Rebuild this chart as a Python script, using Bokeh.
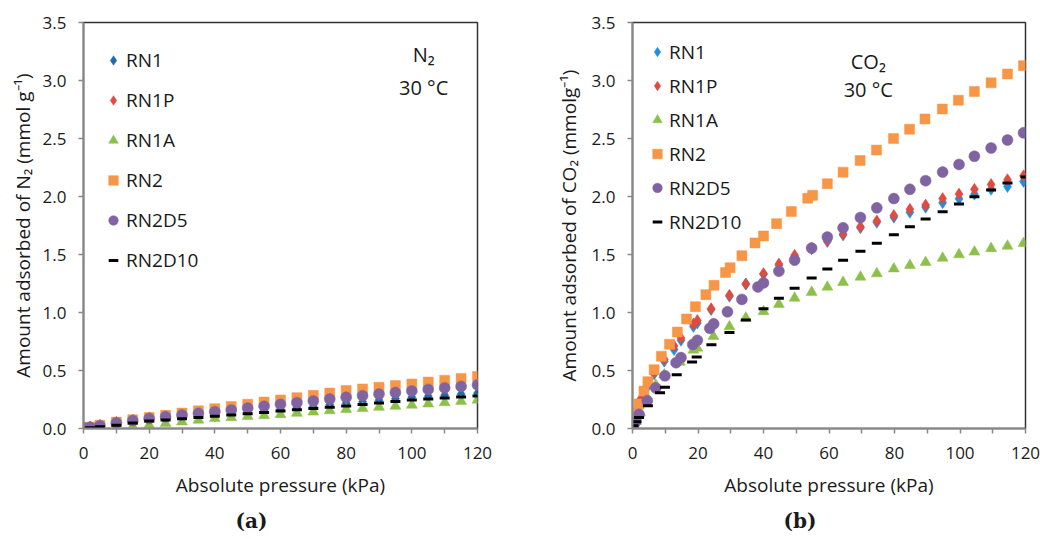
from bokeh.plotting import figure
from bokeh.models import (FixedTicker, NumeralTickFormatter, Legend, LegendItem,
                          Label, Title, Range1d)
from bokeh.layouts import row
from bokeh.embed import file_html
from bokeh.resources import INLINE

# ---------------- data ----------------
series_names = ["RN1", "RN1P", "RN1A", "RN2", "RN2D5", "RN2D10"]

# N2 at 30 °C
n2_pressure = [0.3, 2, 5, 10, 15, 20, 25, 30, 35, 40, 45, 50, 55, 60, 65, 70, 75,
               80, 85, 90, 95, 100, 105, 110, 115, 120]
n2_rn1 = [0.001, 0.006, 0.016, 0.031, 0.05, 0.066, 0.077, 0.088, 0.099, 0.11, 0.124,
          0.138, 0.151, 0.165, 0.178, 0.191, 0.204, 0.217, 0.23, 0.243, 0.256, 0.269,
          0.278, 0.287, 0.295, 0.303]
n2_rn1p = [0.003, 0.014, 0.029, 0.054, 0.073, 0.092, 0.107, 0.122, 0.136, 0.15, 0.165,
           0.181, 0.197, 0.213, 0.228, 0.243, 0.259, 0.274, 0.288, 0.302, 0.315, 0.329,
           0.342, 0.355, 0.368, 0.381]
n2_rn1a = [0.0, 0.0, 0.003, 0.008, 0.018, 0.029, 0.044, 0.058, 0.073, 0.087, 0.095,
           0.104, 0.112, 0.121, 0.132, 0.143, 0.154, 0.165, 0.174, 0.184, 0.193, 0.202,
           0.213, 0.224, 0.235, 0.246]
n2_rn2 = [0.002, 0.012, 0.028, 0.055, 0.075, 0.095, 0.114, 0.133, 0.152, 0.171, 0.19,
          0.209, 0.228, 0.246, 0.266, 0.286, 0.306, 0.327, 0.341, 0.355, 0.37, 0.384,
          0.4, 0.416, 0.432, 0.448]
n2_rn2d5 = [0.002, 0.01, 0.024, 0.049, 0.068, 0.087, 0.102, 0.117, 0.131, 0.145, 0.16,
            0.176, 0.192, 0.208, 0.223, 0.238, 0.254, 0.269, 0.283, 0.297, 0.31, 0.324,
            0.337, 0.35, 0.363, 0.376]
n2_rn2d10 = [0.001, 0.006, 0.015, 0.029, 0.047, 0.064, 0.074, 0.085, 0.095, 0.105, 0.117,
             0.128, 0.139, 0.15, 0.161, 0.172, 0.183, 0.194, 0.207, 0.22, 0.233, 0.246,
             0.255, 0.264, 0.272, 0.28]

# CO2 at 30 °C
co2_rn1_p = [0.3, 1.2, 2.5, 4.6, 6.6, 9.7, 12.7, 14.8, 18.6, 19.8, 24, 29.6, 34.6, 40,
             44.7, 49.5, 54.7, 59.5, 64.3, 69.6, 74.6, 79.8, 84.7, 89.5, 94.7, 99.7,
             104.4, 109.5, 114.5, 119.4]
co2_rn1 = [0.04, 0.125, 0.24, 0.36, 0.47, 0.58, 0.68, 0.76, 0.88, 0.91, 1.025, 1.14,
           1.245, 1.33, 1.41, 1.48, 1.55, 1.611, 1.668, 1.73, 1.777, 1.822, 1.864,
           1.908, 1.947, 1.98, 2.02, 2.062, 2.086, 2.13]
co2_rn1p_p = [0.3, 1.2, 2.5, 4.6, 6.6, 9.7, 12.7, 14.8, 18.6, 19.8, 24, 29.6, 34.6, 40,
              44.7, 49.5, 54.7, 59.5, 64.3, 69.6, 74.6, 79.8, 84.7, 89.5, 94.7, 99.7,
              104.4, 109.5, 114.5, 119.4]
co2_rn1p = [0.05, 0.137, 0.255, 0.374, 0.484, 0.596, 0.712, 0.78, 0.9, 0.932, 1.033,
            1.148, 1.246, 1.335, 1.418, 1.493, 1.555, 1.62, 1.677, 1.739, 1.789, 1.837,
            1.89, 1.926, 1.982, 2.021, 2.062, 2.104, 2.145, 2.178]
co2_rn1a_p = [0.3, 1, 2.3, 4.6, 7.1, 9.7, 14.5, 18.6, 19.8, 24.7, 29.6, 34.6, 40, 44.7,
              49.5, 54.7, 59.5, 64.3, 69.6, 74.6, 79.8, 84.7, 89.5, 94.7, 99.7, 104.4,
              109.5, 114.5, 119.4]
co2_rn1a = [0.012, 0.062, 0.137, 0.255, 0.374, 0.463, 0.573, 0.677, 0.694, 0.795, 0.878,
            0.953, 1.009, 1.071, 1.125, 1.175, 1.22, 1.261, 1.306, 1.335, 1.377, 1.407,
            1.433, 1.469, 1.499, 1.522, 1.552, 1.573, 1.596]
co2_rn2_p = [0.3, 1, 2, 3.5, 4.7, 6.6, 8.8, 11.3, 13.7, 16.5, 19.2, 22.4, 24.9, 28.4,
             29.8, 33.4, 37.4, 40, 44, 48.5, 53.5, 55, 59.5, 64.3, 69.5, 74.5, 79.7,
             84.6, 89.3, 94.6, 99.5, 104.4, 109.5, 114.5, 119.4]
co2_rn2 = [0.062, 0.137, 0.211, 0.323, 0.404, 0.507, 0.623, 0.727, 0.831, 0.944, 1.05,
           1.154, 1.234, 1.344, 1.386, 1.49, 1.6, 1.66, 1.766, 1.87, 1.985, 2.01, 2.11,
           2.21, 2.31, 2.4, 2.5, 2.58, 2.668, 2.754, 2.83, 2.905, 2.98, 3.056, 3.128]
co2_rn2d5_p = [0.3, 1, 2, 4.5, 7.1, 9.9, 13.3, 14.8, 18.4, 19.8, 23.6, 24.8, 29, 33.4,
               38.3, 40, 44.7, 49.5, 54.7, 59.5, 64.3, 69.6, 74.6, 79.8, 84.7, 89.5,
               94.7, 99.7, 104.4, 109.5, 114.5, 119.4]
co2_rn2d5 = [0.02, 0.06, 0.122, 0.24, 0.35, 0.454, 0.567, 0.611, 0.724, 0.76, 0.864,
             0.902, 1.006, 1.113, 1.22, 1.255, 1.356, 1.451, 1.555, 1.65, 1.73, 1.819,
             1.902, 1.982, 2.062, 2.136, 2.211, 2.276, 2.347, 2.418, 2.487, 2.549]
co2_rn2d10_p = [0.3, 1.2, 2.0, 4.7, 8.4, 9.9, 13.5, 18.2, 19.6, 24.1, 29.6, 34.6, 40,
                44.7, 49.5, 54.7, 59.5, 64.3, 69.6, 74.6, 79.8, 84.7, 89.5, 94.7, 99.7,
                104.4, 109.5, 114.5, 120]
co2_rn2d10 = [0.024, 0.059, 0.095, 0.196, 0.309, 0.356, 0.463, 0.573, 0.617, 0.721,
              0.828, 0.935, 1.033, 1.122, 1.208, 1.297, 1.374, 1.451, 1.528, 1.596,
              1.671, 1.739, 1.807, 1.869, 1.935, 1.997, 2.056, 2.116, 2.169]

x_major_ticks = [0, 20, 40, 60, 80, 100, 120]
x_minor_ticks = [10, 30, 50, 70, 90, 110]
y_ticks = [0.0, 0.5, 1.0, 1.5, 2.0, 2.5, 3.0, 3.5]

# ---------------- styling ----------------
FONT = "Open Sans"
TXT = "#1a1a1a"
AX = "#888888"

styles = {
    "RN1":    dict(marker="diamond", size=12),
    "RN1P":   dict(marker="diamond", size=12),
    "RN1A":   dict(marker="triangle", size=11),
    "RN2":    dict(marker="square", size=10),
    "RN2D5":  dict(marker="circle", size=11),
    "RN2D10": dict(marker="dash", size=10),
}


def make_panel(width, left, right, series, colors, ylabel, ylabel_standoff, gas, temp,
               gas_xy, temp_xy, caption, cap_offset, leg_pad, leg_h, leg_spacing,
               leg_standoff):
    p = figure(width=width, height=539, output_backend="svg", toolbar_location=None,
               x_range=Range1d(0, 120), y_range=Range1d(0, 3.5),
               min_border_left=left, min_border_right=right,
               min_border_top=22, min_border_bottom=110)
    p.background_fill_color = "white"
    p.border_fill_color = "white"
    p.grid.visible = False
    p.outline_line_color = "#333333"
    p.outline_line_width = 1.5

    items = []
    for name, (xs, ys) in zip(series_names, series):
        st = styles[name]
        col = colors[name]
        if st["marker"] == "dash":
            r = p.scatter(xs, ys, marker="dash", size=st["size"], line_color=col,
                          line_width=3)
        else:
            r = p.scatter(xs, ys, marker=st["marker"], size=st["size"],
                          fill_color=col, line_color=col, line_width=0.5)
        items.append(LegendItem(label=name, renderers=[r]))

    leg = Legend(items=items, location="top_left", margin=0, padding=leg_pad,
                 spacing=leg_spacing, glyph_width=24, glyph_height=leg_h,
                 label_height=leg_h, label_standoff=leg_standoff,
                 label_text_font=FONT, label_text_font_size="19px",
                 label_text_color=TXT, background_fill_alpha=0, border_line_alpha=0)
    p.add_layout(leg)

    # axes
    xa = p.xaxis[0]
    xa.ticker = FixedTicker(ticks=x_major_ticks, minor_ticks=x_minor_ticks)
    xa.axis_label = "Absolute pressure (kPa)"
    ya = p.yaxis[0]
    ya.ticker = FixedTicker(ticks=y_ticks)
    ya.formatter = NumeralTickFormatter(format="0.0")
    ya.axis_label = ylabel
    for ax in (xa, ya):
        ax.axis_line_color = AX
        ax.axis_line_width = 2
        ax.major_tick_line_color = AX
        ax.major_tick_line_width = 1.5
        ax.minor_tick_line_color = AX
        ax.minor_tick_line_width = 1.5
        ax.major_tick_in = 0
        ax.major_tick_out = 5
        ax.major_label_text_font = FONT
        ax.major_label_text_font_size = "17px"
        ax.major_label_text_color = TXT
        ax.axis_label_text_font = FONT
        ax.axis_label_text_font_size = "19px"
        ax.axis_label_text_font_style = "normal"
        ax.axis_label_text_color = TXT
    xa.minor_tick_in = 0
    xa.minor_tick_out = 5
    ya.minor_tick_in = 0
    ya.minor_tick_out = 0
    xa.major_label_standoff = 13
    xa.axis_label_standoff = 10
    ya.major_label_standoff = 12
    ya.axis_label_standoff = ylabel_standoff

    p.add_layout(Label(x=gas_xy[0], y=gas_xy[1], text=gas, text_align="center",
                       text_baseline="middle", text_font=FONT, text_font_size="20px",
                       text_color=TXT))
    p.add_layout(Label(x=temp_xy[0], y=temp_xy[1], text=temp, text_align="center",
                       text_baseline="middle", text_font=FONT, text_font_size="20px",
                       text_color=TXT))

    p.add_layout(Title(text=caption, align="left", offset=cap_offset,
                       text_font="DejaVu Serif", text_font_style="bold",
                       text_font_size="20px", text_color=TXT, standoff=13), "below")
    return p


colors_a = {"RN1": "#1F6BAA", "RN1P": "#E04A3F", "RN1A": "#8DC04B",
            "RN2": "#F79646", "RN2D5": "#8064A2", "RN2D10": "#000000"}
colors_b = {"RN1": "#1D8FE1", "RN1P": "#E04A3F", "RN1A": "#8DC04B",
            "RN2": "#F79646", "RN2D5": "#8064A2", "RN2D10": "#000000"}

series_a = [(n2_pressure, n2_rn1), (n2_pressure, n2_rn1p), (n2_pressure, n2_rn1a),
            (n2_pressure, n2_rn2), (n2_pressure, n2_rn2d5), (n2_pressure, n2_rn2d10)]
series_b = [(co2_rn1_p, co2_rn1), (co2_rn1p_p, co2_rn1p), (co2_rn1a_p, co2_rn1a),
            (co2_rn2_p, co2_rn2), (co2_rn2d5_p, co2_rn2d5), (co2_rn2d10_p, co2_rn2d10)]

p1 = make_panel(552, 83, 75, series_a, colors_a,
                "Amount adsorbed of N\u2082 (mmol g\u207b\u00b9)", 4,
                "N\u2082", "30 \u00b0C", (103.6, 3.22), (103.6, 2.94),
                "(a)", 152, 18, 40, 0, 1)
p2 = make_panel(488, 80, 15, series_b, colors_b,
                "Amount adsorbed of CO\u2082 (mmolg\u207b\u00b9)", 7,
                "CO\u2082", "30 \u00b0C", (72, 3.16), (72, 2.92),
                "(b)", 151, 13, 33, 1, 0)

layout = row(p1, p2)
open("out.html", "w").write(file_html(layout, INLINE))
